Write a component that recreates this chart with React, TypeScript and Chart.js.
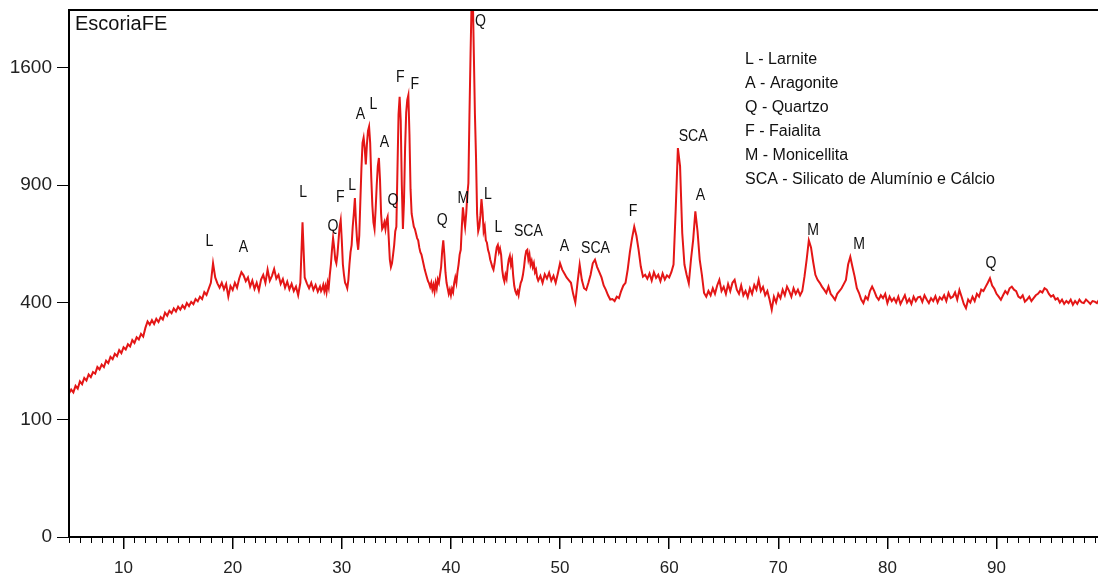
import React, { useEffect, useRef } from 'react';
import { Chart, LinearScale, registerables } from 'chart.js';

// ---------- data ----------
const SAMPLE_NAME = 'EscoriaFE';

// 2θ 5.0 – 27.8, step 0.2
const ANGLE_START_LOW = 5.0;
const ANGLE_STEP_LOW = 0.2;
const COUNTS_LOW = [
  150, 158, 152, 166, 160,
  176, 170, 184, 178, 192,
  186, 198, 194, 210, 204,
  216, 210, 226, 220, 236,
  230, 244, 238, 254, 246,
  262, 256, 270, 264, 282,
  274, 290, 284, 300, 292,
  318, 338, 328, 342, 330,
  346, 336, 352, 344, 366,
  356, 372, 364, 380, 370,
  386, 376, 390, 380, 398,
  388, 402, 394, 412, 404,
  420, 412, 436, 426, 448,
  470, 545, 490, 468, 452,
  470, 446, 466, 420, 458,
  444, 470, 452, 486, 510,
  498, 476, 490, 456, 478,
  448, 470, 442, 482, 500,
  470, 520, 478, 496, 522,
  486, 500, 466, 484, 452,
  474, 446, 466, 440, 456,
  425, 470, 720, 490, 468,
  450, 470, 444, 462, 438,
];

// 2θ 28.0 – 47.9, step 0.1
const ANGLE_START_MID = 28.0;
const ANGLE_STEP_MID = 0.1;
const COUNTS_MID = [
  456, 440, 448, 462, 440, 458, 436, 470, 452, 500,
  540, 600, 650, 610, 560, 545, 580, 640, 700, 730,
  640, 540, 500, 470, 462, 450, 480, 540, 590, 620,
  700, 760, 836, 720, 640, 600, 660, 820, 990, 1130,
  1160, 1100, 1010, 1120, 1200, 1225, 1130, 940, 800, 720,
  690, 780, 900, 1000, 1045, 930, 760, 690, 700, 720,
  690, 730, 746, 650, 560, 530, 545, 580, 620, 680,
  700, 980, 1300, 1410, 1260, 900, 690, 820, 1100, 1310,
  1390, 1420, 1180, 880, 760, 730, 700, 690, 670, 650,
  640, 610, 590, 580, 560, 540, 520, 505, 490, 476,
  468, 455, 470, 445, 462, 438, 470, 450, 482, 470,
  500, 530, 595, 640, 580, 510, 470, 450, 430, 445,
  425, 448, 436, 470, 490, 470, 510, 540, 580, 600,
  700, 790, 740, 700, 760, 850, 910, 1300, 1700, 2100,
  2150, 1700, 1300, 1050, 760, 680, 700, 750, 830, 770,
  680, 700, 640, 630, 600, 585, 560, 545, 530, 520,
  545, 580, 610, 620, 590, 605, 580, 520, 490, 475,
  500, 485, 530, 560, 575, 540, 560, 500, 460, 440,
  430, 440, 425, 450, 470, 480, 500, 530, 570, 595,
  600, 560, 580, 540, 555, 530, 545, 510, 520, 490,
];

// 2θ 48.0 – 99.8, step 0.2
const ANGLE_START_HIGH = 48.0;
const ANGLE_STEP_HIGH = 0.2;
const COUNTS_HIGH = [
  478, 496, 470, 502, 486,
  508, 478, 496, 470, 505,
  545, 520, 505, 490, 480,
  470, 430, 400, 470, 539,
  480, 450, 444, 470, 500,
  545, 559, 530, 510, 490,
  460, 444, 425, 410, 412,
  405, 420, 415, 440, 460,
  470, 520, 590, 650, 700,
  660, 600, 532, 493, 500,
  485, 505, 478, 510, 488,
  500, 476, 505, 482, 498,
  490, 510, 540, 780, 1100,
  1000, 671, 540, 500, 468,
  560, 642, 771, 680, 560,
  500, 433, 420, 440, 425,
  450, 430, 460, 481, 440,
  455, 430, 465, 440, 470,
  481, 445, 430, 460, 425,
  440, 418, 450, 430, 462,
  445, 481, 440, 455, 425,
  440, 410, 376, 420, 400,
  430, 415, 445, 425, 456,
  440, 420, 450, 430, 445,
  425, 440, 493, 560, 640,
  610, 550, 500, 481, 470,
  456, 445, 433, 456, 430,
  420, 409, 430, 440, 450,
  465, 481, 540, 571, 530,
  493, 450, 433, 410, 398,
  420, 410, 440, 456, 440,
  420, 409, 425, 415, 430,
  398, 420, 405, 415, 400,
  420, 395, 410, 425, 400,
  412, 395, 420, 405, 418,
  420, 402, 425, 410, 398,
  415, 405, 422, 400, 418,
  410, 425, 405, 433, 415,
  420, 435, 410, 444, 420,
  395, 381, 410, 400, 420,
  405, 430, 420, 445, 440,
  455, 470, 487, 460, 448,
  430, 420, 409, 425, 440,
  430, 450, 456, 445, 440,
  420, 415, 425, 403, 410,
  420, 405, 415, 425, 430,
  440, 435, 450, 445, 430,
  420, 425, 410, 415, 400,
  410, 395, 405, 398, 410,
  392, 405, 395, 410, 400,
  398, 410, 403, 395, 405,
  403, 398, 410, 400, 405,
];

const X_MIN = 5;
const X_MAX = 99.3;
const Y_MAX = 2020;
const X_TICKS = [10, 20, 30, 40, 50, 60, 70, 80, 90];
const X_MINOR_STEP = 1;
const Y_TICKS = [0, 100, 400, 900, 1600];

const PHASE_LEGEND = [
  'L - Larnite',
  'A - Aragonite',
  'Q - Quartzo',
  'F - Faialita',
  'M - Monicellita',
  'SCA - Silicato de Alumínio e Cálcio',
];

const PEAK_TEXT = ['L', 'A', 'L', 'Q', 'F', 'L', 'A', 'L', 'A', 'Q', 'F', 'F', 'Q', 'M', 'Q', 'L', 'L', 'SCA', 'A', 'SCA', 'F', 'SCA', 'A', 'M', 'M', 'Q'];
const PEAK_ANGLE = [17.86, 20.98, 26.46, 29.2, 29.87, 30.95, 31.7, 32.9, 33.9, 34.7, 35.35, 36.7, 39.2, 41.15, 42.7, 43.4, 44.35, 47.1, 50.4, 53.25, 56.7, 62.2, 62.87, 73.2, 77.4, 89.5];
const PEAK_COUNTS = [633, 608, 861, 699, 836, 900, 1296, 1357, 1129, 821, 1532, 1491, 727, 831, 1930, 851, 695, 677, 612, 604, 769, 1169, 846, 682, 620, 542];

// ---------- helpers ----------
const FONT = "'Liberation Sans', Arial, sans-serif";

function segment(start: number, step: number, counts: number[]) {
  return counts.map((c, i) => ({ x: +(start + i * step).toFixed(2), y: c }));
}

class SqrtScale extends LinearScale {
  static id = 'sqrt';
  getPixelForValue(value: number) {
    const lo = Math.sqrt(Math.max(this.min, 0));
    const hi = Math.sqrt(this.max);
    const v = Math.sqrt(Math.max(value, 0));
    return this.getPixelForDecimal((v - lo) / (hi - lo));
  }
  getValueForPixel(pixel: number) {
    const lo = Math.sqrt(Math.max(this.min, 0));
    const hi = Math.sqrt(this.max);
    const s = lo + this.getDecimalForPixel(pixel) * (hi - lo);
    return s * s;
  }
}

Chart.register(...registerables, SqrtScale as any);

const decorPlugin = {
  id: 'decor',
  afterDatasetsDraw(chart: any) {
    const { ctx, chartArea: a, scales } = chart;
    const xs = scales.x;
    const ys = scales.y;
    ctx.save();
    // peak labels (slightly condensed, like the original)
    ctx.fillStyle = '#111';
    ctx.font = `16px ${FONT}`;
    ctx.textAlign = 'center';
    ctx.textBaseline = 'middle';
    PEAK_TEXT.forEach((t, i) => {
      ctx.save();
      ctx.translate(xs.getPixelForValue(PEAK_ANGLE[i]), ys.getPixelForValue(PEAK_COUNTS[i]));
      ctx.scale(0.88, 1);
      ctx.fillText(t, 0, 0);
      ctx.restore();
    });
    // legend text
    ctx.textAlign = 'left';
    ctx.font = `16px ${FONT}`;
    PHASE_LEGEND.forEach((t, i) => {
      ctx.fillText(t, 745, 60 + i * 24);
    });
    // title
    ctx.font = `20px ${FONT}`;
    ctx.fillText(SAMPLE_NAME, a.left + 6, a.top + 14);
    // frame
    ctx.strokeStyle = '#000';
    ctx.lineWidth = 2;
    ctx.beginPath();
    ctx.moveTo(a.left, a.bottom);
    ctx.lineTo(a.left, a.top);
    ctx.lineTo(chart.width, a.top);
    ctx.moveTo(a.left - 1, a.bottom);
    ctx.lineTo(chart.width, a.bottom);
    ctx.stroke();
    // minor ticks
    ctx.lineWidth = 1;
    ctx.beginPath();
    for (let d = Math.ceil(xs.min); d <= xs.max; d += X_MINOR_STEP) {
      if (d % 10 === 0) continue;
      const px = Math.round(xs.getPixelForValue(d)) + 0.5;
      ctx.moveTo(px, a.bottom);
      ctx.lineTo(px, a.bottom + 6);
    }
    ctx.stroke();
    ctx.restore();
  },
};

export default function App() {
  const ref = useRef<HTMLCanvasElement | null>(null);
  useEffect(() => {
    if (!ref.current) return;
    const data = [
      ...segment(ANGLE_START_LOW, ANGLE_STEP_LOW, COUNTS_LOW),
      ...segment(ANGLE_START_MID, ANGLE_STEP_MID, COUNTS_MID),
      ...segment(ANGLE_START_HIGH, ANGLE_STEP_HIGH, COUNTS_HIGH),
    ];
    const chart = new Chart(ref.current, {
      type: 'line',
      data: {
        datasets: [
          {
            label: SAMPLE_NAME,
            data,
            borderColor: '#e41616',
            borderWidth: 2,
            pointRadius: 0,
            tension: 0,
            fill: false,
          },
        ],
      },
      options: {
        animation: false,
        responsive: false,
        devicePixelRatio: 1,
        parsing: false,
        layout: { padding: { top: 10, left: 0, right: 0, bottom: 0 } },
        plugins: { legend: { display: false }, tooltip: { enabled: false } },
        scales: {
          x: {
            type: 'linear',
            min: X_MIN,
            max: X_MAX,
            afterBuildTicks: (s: any) => {
              s.ticks = X_TICKS.map((v) => ({ value: v }));
            },
            afterFit: (s: any) => {
              s.height = 44;
              s.paddingLeft = 0;
              s.paddingRight = 0;
            },
            grid: { display: true, drawOnChartArea: false, drawTicks: true, tickLength: 12, color: '#000', lineWidth: 1.5 },
            border: { display: false },
            ticks: { color: '#222', padding: 9, font: { family: FONT, size: 17 }, maxRotation: 0, autoSkip: false, callback: (v: any) => String(v) },
          },
          y: {
            type: 'sqrt' as any,
            min: 0,
            max: Y_MAX,
            afterBuildTicks: (s: any) => {
              s.ticks = Y_TICKS.map((v) => ({ value: v }));
            },
            afterFit: (s: any) => {
              s.width = 69;
              s.paddingTop = 0;
              s.paddingBottom = 0;
            },
            grid: { display: true, drawOnChartArea: false, drawTicks: true, tickLength: 12, color: '#000', lineWidth: 1 },
            border: { display: false },
            ticks: { color: '#222', padding: 5, font: { family: FONT, size: 19 }, autoSkip: false, callback: (v: any) => String(v) },
          },
        },
      },
      plugins: [decorPlugin],
    } as any);
    return () => chart.destroy();
  }, []);
  return (
    <div style={{ position: 'absolute', left: 0, top: 0, width: 1098, height: 581, background: '#fff' }}>
      <canvas ref={ref} width={1098} height={581} style={{ display: 'block' }} />
    </div>
  );
}
